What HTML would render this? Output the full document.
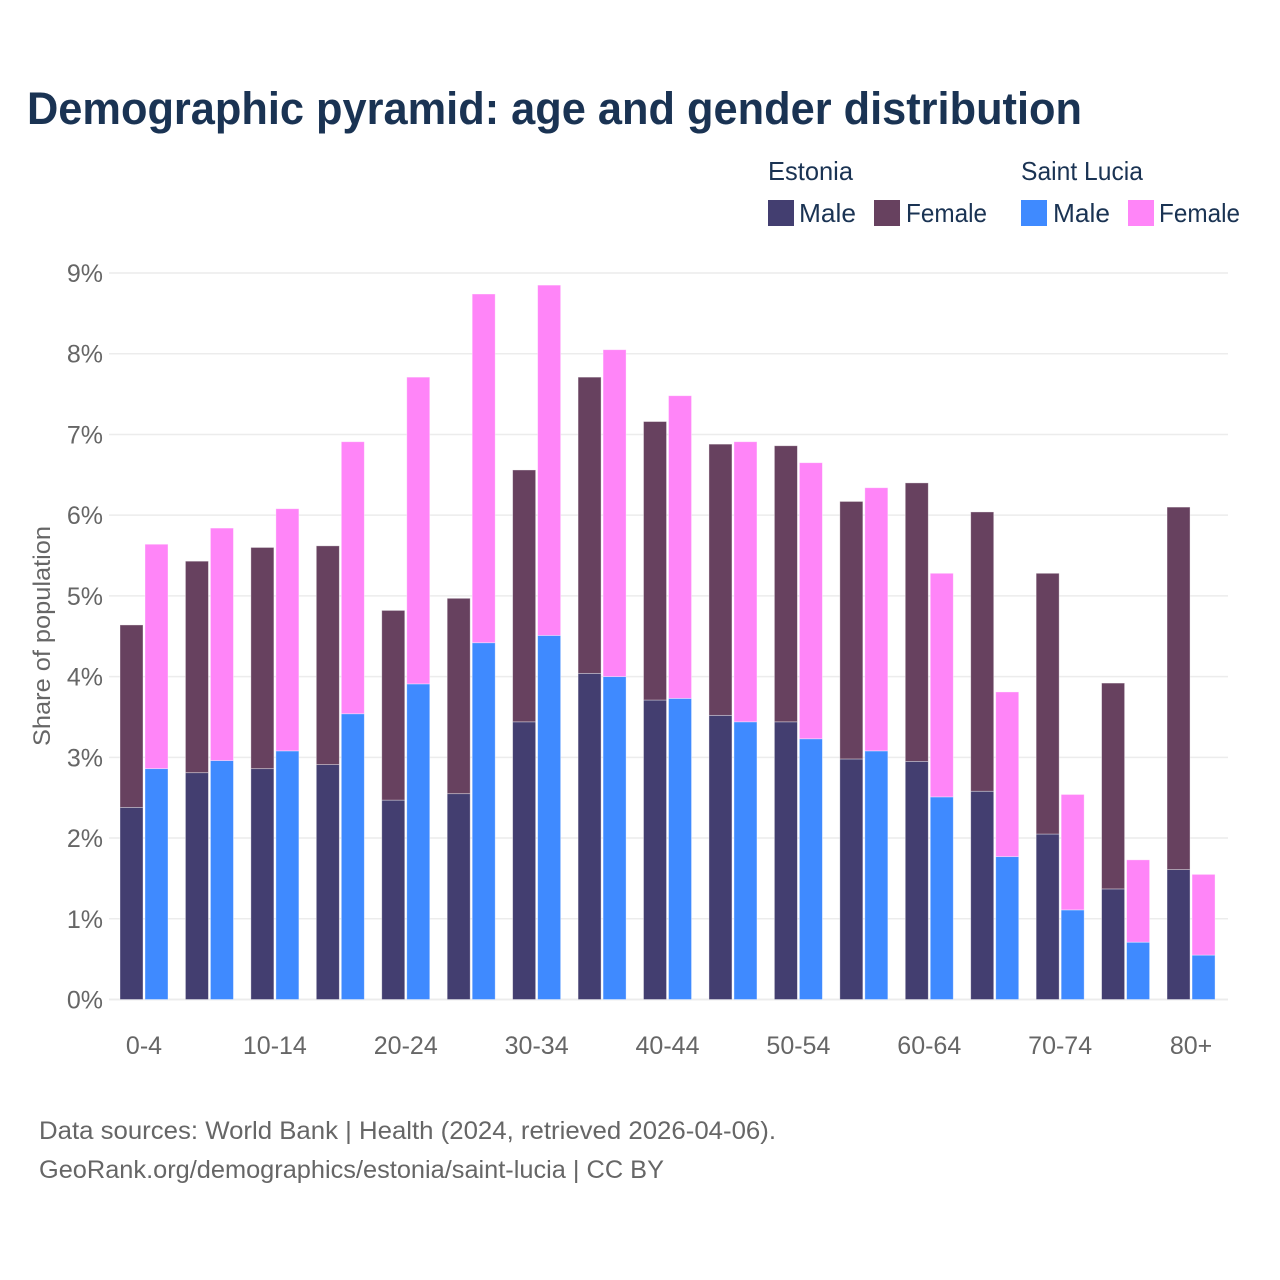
<!DOCTYPE html>
<html>
<head>
<meta charset="utf-8">
<style>
html,body{margin:0;padding:0;background:#fff;}
svg{display:block;}
text{font-family:"Liberation Sans",sans-serif;}
</style>
</head>
<body>
<svg id="chart" xmlns="http://www.w3.org/2000/svg" width="1280" height="1280" viewBox="0 0 1280 1280">
<rect width="1280" height="1280" fill="#fff"/>
<text x="27" y="124" font-size="45" font-weight="700" fill="#1a3353" textLength="1055" lengthAdjust="spacingAndGlyphs">Demographic pyramid: age and gender distribution</text>
<g font-size="26" fill="#1a3353">
<text x="768" y="180" textLength="85" lengthAdjust="spacingAndGlyphs">Estonia</text>
<text x="1021" y="180" textLength="122" lengthAdjust="spacingAndGlyphs">Saint Lucia</text>
<rect x="768" y="200" width="26" height="26" fill="#433e70"/>
<text x="799" y="222" textLength="57" lengthAdjust="spacingAndGlyphs">Male</text>
<rect x="874" y="200" width="26" height="26" fill="#67415f"/>
<text x="906" y="222" textLength="81" lengthAdjust="spacingAndGlyphs">Female</text>
<rect x="1021" y="200" width="26" height="26" fill="#3f8aff"/>
<text x="1053" y="222" textLength="57" lengthAdjust="spacingAndGlyphs">Male</text>
<rect x="1128" y="200" width="26" height="26" fill="#ff85f8"/>
<text x="1159" y="222" textLength="81" lengthAdjust="spacingAndGlyphs">Female</text>
</g>
<text transform="translate(50,636) rotate(-90)" text-anchor="middle" font-size="24" fill="#666" textLength="220" lengthAdjust="spacingAndGlyphs">Share of population</text>
<g id="grid"></g>
<g id="yticks"></g>
<g id="bars"></g>
<g id="xticks"></g>
<g font-size="25" fill="#666">
<text x="39" y="1139" textLength="737" lengthAdjust="spacingAndGlyphs">Data sources: World Bank | Health (2024, retrieved 2026-04-06).</text>
<text x="39" y="1178" textLength="625" lengthAdjust="spacingAndGlyphs">GeoRank.org/demographics/estonia/saint-lucia | CC BY</text>
</g>
</svg>
<script>
const categories = ["0-4","5-9","10-14","15-19","20-24","25-29","30-34","35-39","40-44","45-49","50-54","55-59","60-64","65-69","70-74","75-79","80+"];
const tickLabels = ["0-4","","10-14","","20-24","","30-34","","40-44","","50-54","","60-64","","70-74","","80+"];
const yTicks = [0,1,2,3,4,5,6,7,8,9];
const estoniaMale = [2.38,2.81,2.86,2.91,2.47,2.55,3.44,4.04,3.71,3.52,3.44,2.98,2.95,2.58,2.05,1.37,1.61];
const estoniaFemale = [2.26,2.62,2.74,2.71,2.35,2.42,3.12,3.67,3.45,3.36,3.42,3.19,3.45,3.46,3.23,2.55,4.49];
const saintLuciaMale = [2.86,2.96,3.08,3.54,3.91,4.42,4.51,4.00,3.73,3.44,3.23,3.08,2.51,1.77,1.11,0.71,0.55];
const saintLuciaFemale = [2.78,2.88,3.00,3.37,3.80,4.32,4.34,4.05,3.75,3.47,3.42,3.26,2.77,2.04,1.43,1.02,1.00];

const NS = "http://www.w3.org/2000/svg";
const yScale = v => 999.5 - v * 80.72;
const xScale = i => 120 + i * 65.44;
const barW = 23;
const offsetW = 25;

function mk(tag, attrs, parent, txt) {
  const el = document.createElementNS(NS, tag);
  for (const k in attrs) el.setAttribute(k, attrs[k]);
  if (txt !== undefined) el.textContent = txt;
  parent.appendChild(el);
  return el;
}

const grid = document.getElementById("grid");
const yt = document.getElementById("yticks");
yTicks.forEach(t => {
  const line = mk("line", {x1:109, x2:1228, y1:yScale(t), y2:yScale(t), stroke: "#ececec", "stroke-width": t === 0 ? 2 : 1.5}, grid);
  
  
  const label = mk("text", {x:103, y:yScale(t)+9, "text-anchor":"end", "font-size":25, fill:"#666"}, yt, t + "%");
  
  
});

const bars = document.getElementById("bars");
function drawBar(x, lo, hi, fill) {
  const r = mk("rect", {x:x, y:yScale(hi), width:barW, height:yScale(lo)-yScale(hi), fill:fill, stroke:"#fff", "stroke-opacity":0.45, "stroke-width":0.8}, bars);
  
  
}
categories.forEach((c, i) => {
  const x = xScale(i);
  drawBar(x, 0, estoniaMale[i], "#433e70");
  drawBar(x, estoniaMale[i], estoniaMale[i] + estoniaFemale[i], "#67415f");
  drawBar(x + offsetW, 0, saintLuciaMale[i], "#3f8aff");
  drawBar(x + offsetW, saintLuciaMale[i], saintLuciaMale[i] + saintLuciaFemale[i], "#ff85f8");
});

const xt = document.getElementById("xticks");
tickLabels.forEach((t, i) => {
  if (!t) return;
  const label = mk("text", {x:xScale(i)+24, y:1054, "text-anchor":"middle", "font-size":25, fill:"#666"}, xt, t);
  
  
});
</script>
</body>
</html>
